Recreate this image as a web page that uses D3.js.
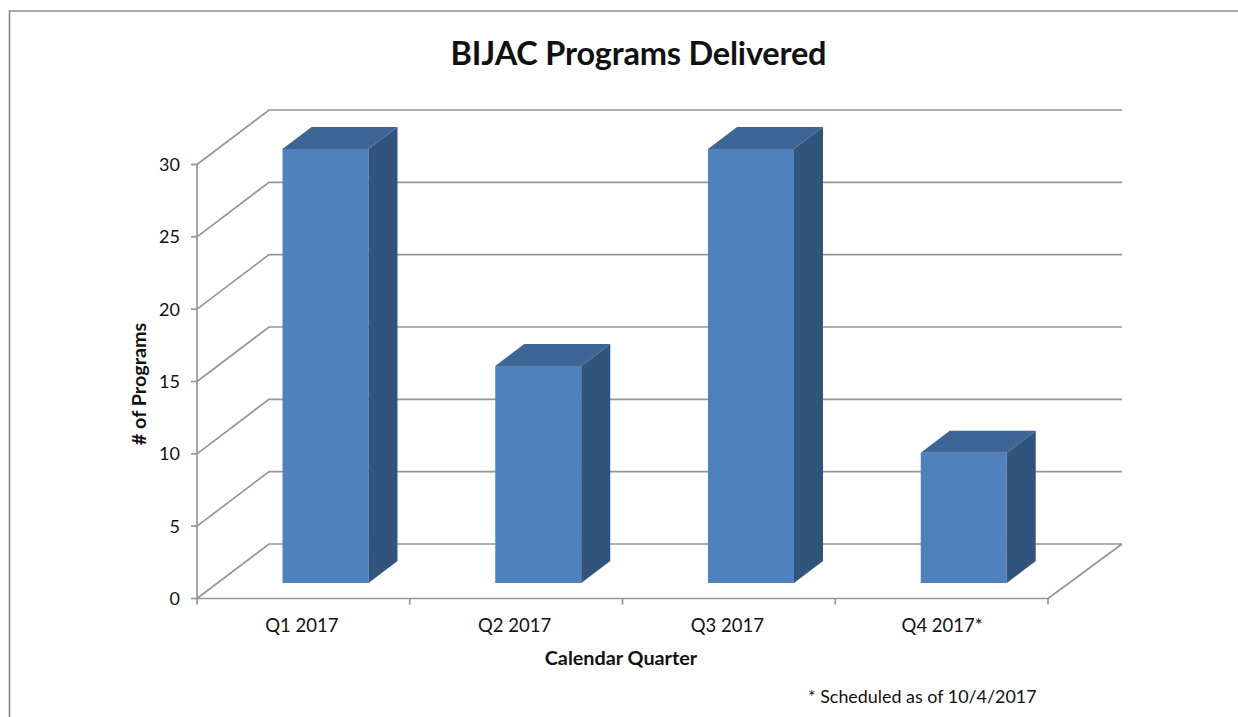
<!DOCTYPE html>
<html><head><meta charset="utf-8">
<script src="https://cdn.jsdelivr.net/npm/d3@7"></script>
<style>html,body{margin:0;padding:0;background:#fff}svg{display:block}text{font-family:Lato,"Open Sans",sans-serif;fill:#111}</style>
</head><body><svg id="c" width="1238" height="717"></svg>
<script>
const categories=["Q1 2017","Q2 2017","Q3 2017","Q4 2017*"];
const values=[30,15,30,9];
const yTicks=[0,5,10,15,20,25,30];
const svg=d3.select("#c");
svg.append("path").attr("d","M9.5,717V11H1238").attr("fill","none").attr("stroke","#8a8a8a").attr("stroke-width",1.7);
const x=d3.scaleBand().domain(categories).range([197,1048]);
const y=d3.scaleLinear().domain([0,30]).range([598.5,164.5]);
const dx=72,dy=-54.5;
const g=svg.append("g");
const grid=g.append("g").attr("fill","none").attr("stroke","#969696").attr("stroke-width",1.7);
yTicks.forEach(t=>{
 grid.append("path").attr("d",`M${x.range()[0]},${y(t)}L${x.range()[0]+dx},${y(t)+dy}H1122`);
});
grid.append("path").attr("d",`M${x.range()[1]},${y(0)}L1122,${y(0)+dy}`);
const ax=g.append("g").attr("fill","none").attr("stroke","#969696").attr("stroke-width",1.7);
ax.append("path").attr("d",`M${x.range()[0]},${y(30)}V${y(0)}H${x.range()[1]}`);
yTicks.forEach(t=>ax.append("path").attr("d",`M${x.range()[0]-6},${y(t)}H${x.range()[0]}`));
d3.range(5).forEach(i=>{const px=x.range()[0]+i*x.bandwidth();ax.append("path").attr("d",`M${px},${y(0)}V${y(0)+6}`)});
const bw=86,by=-15.5,sx=29,sy=-22;
const yb=v=>y(v)+by;
const bars=g.selectAll("g.bar").data(categories.map((c,i)=>({c,v:values[i]}))).join("g");
bars.each(function(d){
 const s=d3.select(this),l=x(d.c)+85.5,r=l+bw,t=yb(d.v),b=yb(0);
 s.append("rect").attr("x",l).attr("y",t).attr("width",bw).attr("height",b-t).attr("fill","#4f81bd");
 s.append("path").attr("d",`M${r},${t}l${sx},${sy}V${b+sy}l${-sx},${-sy}Z`).attr("fill","#31547c");
 s.append("path").attr("d",`M${l},${t}l${sx},${sy}h${bw}l${-sx},${-sy}Z`).attr("fill","#3d6595");
});
yTicks.forEach(t=>svg.append("text").attr("x",180).attr("y",y(t)+6.5).attr("text-anchor","end").attr("font-size",18).text(t));
categories.forEach((c,i)=>svg.append("text").attr("x",x(c)+x.bandwidth()/2-1.5+(i==3?2:0)).attr("y",632).attr("text-anchor","middle").attr("font-size",18.5).text(c));
svg.append("text").attr("x",638.5).attr("y",65).attr("text-anchor","middle").attr("font-size",32.5).attr("font-weight",700).attr("letter-spacing",-.2).text("BIJAC Programs Delivered");
svg.append("text").attr("x",621).attr("y",665).attr("text-anchor","middle").attr("font-size",19.8).attr("font-weight",700).text("Calendar Quarter");
svg.append("text").attr("transform","translate(146,384) rotate(-90)").attr("text-anchor","middle").attr("font-size",19.8).attr("font-weight",700).text("# of Programs");
svg.append("text").attr("x",808).attr("y",703).attr("font-size",17.9).text("* Scheduled as of 10/4/2017");
</script></body></html>
